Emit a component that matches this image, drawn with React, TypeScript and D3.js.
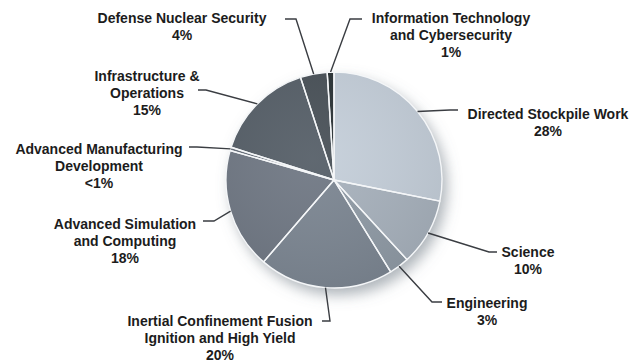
import React from "react";
import * as d3 from "d3";

const categories = [
  "Directed Stockpile Work",
  "Science",
  "Engineering",
  "Inertial Confinement Fusion Ignition and High Yield",
  "Advanced Simulation and Computing",
  "Advanced Manufacturing Development",
  "Infrastructure & Operations",
  "Defense Nuclear Security",
  "Information Technology and Cybersecurity",
];
const values = [28, 10, 3, 20, 18, 0.5, 15, 4, 1];
const labelLines = [
  ["Directed Stockpile Work", "28%"],
  ["Science", "10%"],
  ["Engineering", "3%"],
  ["Inertial Confinement Fusion", "Ignition and High Yield", "20%"],
  ["Advanced Simulation", "and Computing", "18%"],
  ["Advanced Manufacturing", "Development", "<1%"],
  ["Infrastructure &", "Operations", "15%"],
  ["Defense Nuclear Security", "4%"],
  ["Information Technology", "and Cybersecurity", "1%"],
];
const colors = [
  "#c5cfda", "#a8b2bd", "#909ba6", "#7c8692", "#6f7884",
  "#666e79", "#565e68", "#4a5159", "#2b3036",
];
// label layout: text centre x, first line centre y, elbow point, end point
const labelLayout = [
  { tx: 548, ty: 114, elbow: [450, 110], end: [458, 110] },
  { tx: 528, ty: 252, elbow: [489, 252], end: [497, 252] },
  { tx: 487, ty: 303, elbow: [432, 302], end: [442, 302] },
  { tx: 220, ty: 321, elbow: [330, 321], end: [322, 321] },
  { tx: 125, ty: 224, elbow: [214, 221], end: [203, 221] },
  { tx: 99, ty: 149, elbow: [197, 147], end: [189, 147] },
  { tx: 147, ty: 76, elbow: [206, 90], end: [198, 90] },
  { tx: 182, ty: 18, elbow: [296, 19], end: [285, 19] },
  { tx: 451, ty: 18, elbow: [350, 19], end: [362, 19] },
];

const W = 638;
const H = 362;
const cx = 334;
const cy = 180;
const R = 108;

export default function App() {
  const pie = d3.pie<number>().sort(null).value((d) => d);
  const arcs = pie(values);
  const arc = d3.arc<d3.PieArcDatum<number>>().innerRadius(0).outerRadius(R);
  const lineGen = d3.line();
  const lineH = 17.2;

  return (
    <svg
      width={W}
      height={H}
      style={{ position: "absolute", left: 0, top: 0, background: "#fff" }}
      fontFamily="'Liberation Sans', Arial, sans-serif"
    >
      <defs>
        <filter id="shadow" x="-30%" y="-30%" width="170%" height="170%">
          <feDropShadow dx="5" dy="7" stdDeviation="7" floodColor="#6a7480" floodOpacity="0.55" />
        </filter>
        <radialGradient id="shade" cx="0.4" cy="0.4" r="0.7">
          <stop offset="0%" stopColor="#fff" stopOpacity="0.06" />
          <stop offset="100%" stopColor="#000" stopOpacity="0.08" />
        </radialGradient>
      </defs>
      <g transform={`translate(${cx},${cy})`}>
        <g filter="url(#shadow)">
          {arcs.map((a, i) => (
            <path key={categories[i]} d={arc(a) || ""} fill={colors[i]} />
          ))}
        </g>
        <circle r={R} fill="url(#shade)" />
        {arcs.map((a, i) => (
          <path
            key={"s" + i}
            d={arc(a) || ""}
            fill="none"
            stroke="#f4f6f8"
            strokeWidth={1.4}
            strokeLinejoin="round"
          />
        ))}
      </g>
      {arcs.map((a, i) => {
        const mid = (a.startAngle + a.endAngle) / 2;
        const ex = cx + R * Math.sin(mid);
        const ey = cy - R * Math.cos(mid);
        const L = labelLayout[i];
        return (
          <path
            key={"l" + i}
            d={lineGen([[ex, ey], L.elbow as [number, number], L.end as [number, number]]) || ""}
            fill="none"
            stroke="#3a3d42"
            strokeWidth={1.4}
          />
        );
      })}
      {labelLines.map((lines, i) => {
        const L = labelLayout[i];
        return (
          <text
            key={"t" + i}
            textAnchor="middle"
            fontSize={14}
            fontWeight="bold"
            fill="#1c1c1c"
          >
            {lines.map((ln, j) => (
              <tspan key={j} x={L.tx} y={L.ty + j * lineH} dy="0.35em">
                {ln}
              </tspan>
            ))}
          </text>
        );
      })}
    </svg>
  );
}
